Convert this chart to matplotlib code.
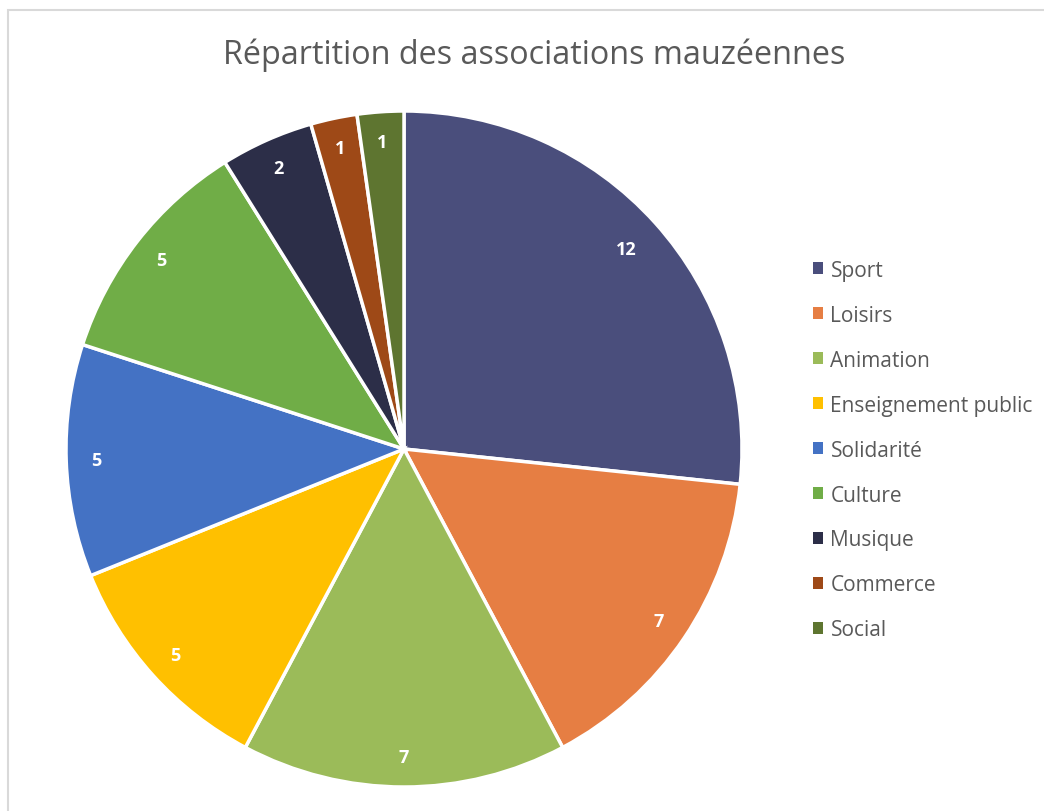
import matplotlib
matplotlib.use('Agg')
import matplotlib.pyplot as plt
import numpy as np
from matplotlib.patches import Patch, Rectangle

# Nombre d'associations par catégorie
categories = ['Sport', 'Loisirs', 'Animation', 'Enseignement public', 'Solidarité',
              'Culture', 'Musique', 'Commerce', 'Social']
counts = [12, 7, 7, 5, 5, 5, 2, 1, 1]
colors = ['#4A4E7C', '#E67E43', '#9BBB59', '#FFC000', '#4472C4',
          '#70AD47', '#2C2E48', '#9E4917', '#5E7530']

plt.rcParams['font.family'] = ['Open Sans', 'DejaVu Sans']

W, H = 1044, 812
fig = plt.figure(figsize=(W / 100, H / 100), dpi=100)

# cadre gris clair du graphique
fig.patches.append(Rectangle((8 / W, -0.1), 1.2, 1 - 11 / H + 0.1,
                             transform=fig.transFigure, fill=False,
                             edgecolor='#D9D9D9', linewidth=1.5))

cx, cy, r = 404, 450, 338
ax = fig.add_axes([(cx - r) / W, (H - cy - r) / H, 2 * r / W, 2 * r / H])

wedges, _ = ax.pie(counts, colors=colors, startangle=90, counterclock=False,
                   radius=1, wedgeprops=dict(edgecolor='white', linewidth=2.5))

# étiquettes de valeur à l'intérieur des parts
for w, v in zip(wedges, counts):
    ang = np.deg2rad((w.theta1 + w.theta2) / 2)
    d = 0.885 if v >= 10 else 0.91
    ax.text(d * np.cos(ang), d * np.sin(ang), str(v), ha='center', va='center',
            color='white', fontsize=13, fontweight='bold')

ax.set_xlim(-1, 1)
ax.set_ylim(-1, 1)
ax.set_aspect('equal')
ax.axis('off')

fig.text(534 / W, 1 - 55 / H, 'Répartition des associations mauzéennes',
         ha='center', va='center', fontsize=23.3, color='#595959')

handles = [Patch(facecolor=c, edgecolor='none') for c in colors]
fig.legend(handles, categories, loc='upper left',
           bbox_to_anchor=(794 / W, 1 - 242 / H), frameon=False,
           fontsize=15, labelcolor='#595959', handlelength=0.5,
           handleheight=0.5, handletextpad=0.35, labelspacing=1.15)

fig.savefig('out.png', dpi=100, facecolor='white')
